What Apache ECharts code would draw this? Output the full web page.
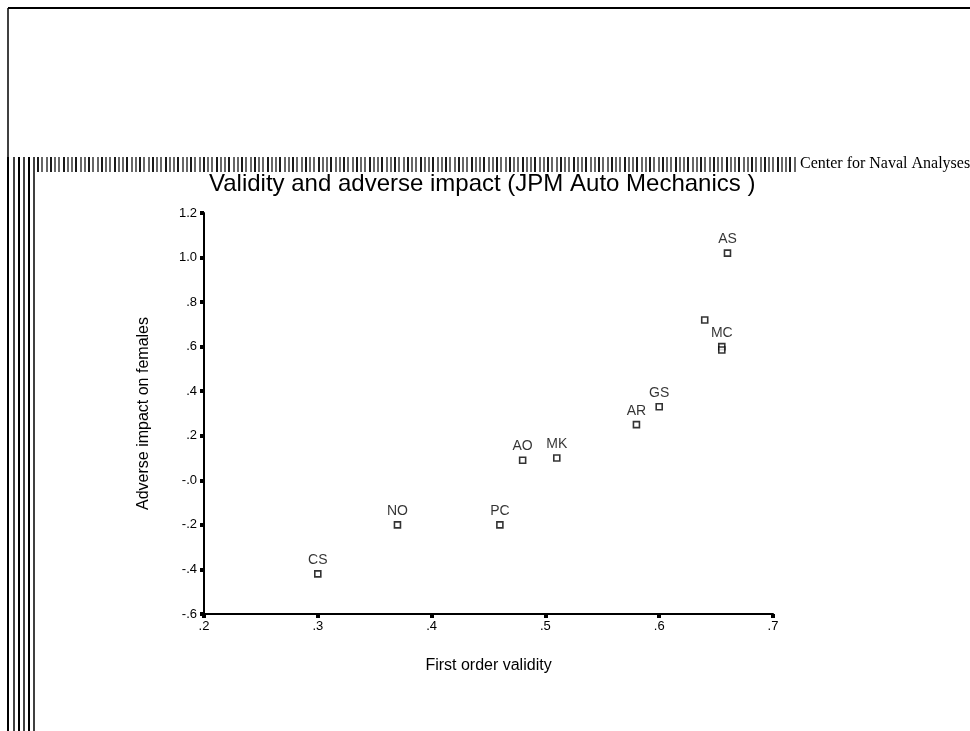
<!DOCTYPE html>
<html>
<head>
<meta charset="utf-8">
<script src="https://cdn.jsdelivr.net/npm/echarts@6/dist/echarts.min.js"></script>
<style>html,body{margin:0;padding:0;background:#fff;}#chart{width:970px;height:731px;}</style>
</head>
<body>
<div id="chart"></div>
<script>
// Data
const pointLabels = ['CS', 'NO', 'PC', 'AO', 'MK', 'AR', 'GS', '', 'MC', '', 'AS'];
const validity = [0.30, 0.37, 0.46, 0.48, 0.51, 0.58, 0.60, 0.64, 0.655, 0.655, 0.66];
const adverseImpact = [-0.42, -0.20, -0.20, 0.09, 0.10, 0.25, 0.33, 0.72, 0.60, 0.585, 1.02];
const xTickLabels = ['.2', '.3', '.4', '.5', '.6', '.7'];
const yTickLabels = ['-.6', '-.4', '-.2', '-.0', '.2', '.4', '.6', '.8', '1.0', '1.2'];

const X_MIN = 0.2, X_MAX = 0.7, X_INT = 0.1;
const Y_MIN = -0.6, Y_MAX = 1.2, Y_INT = 0.2;

const chart = echarts.init(document.getElementById('chart'), null, {renderer: 'canvas'});

// Decorative page stripes
const deco = [];
deco.push({type: 'line', shape: {x1: 8, y1: 8, x2: 970, y2: 8}, style: {stroke: '#000', lineWidth: 2}});
deco.push({type: 'line', shape: {x1: 8, y1: 8, x2: 8, y2: 158}, style: {stroke: '#000', lineWidth: 1.5}});
[8, 14, 19, 24, 29, 34].forEach(function (x, i) {
  deco.push({type: 'line', shape: {x1: x, y1: 157, x2: x, y2: 731}, style: {stroke: '#000', lineWidth: i % 2 ? 1.5 : 2}});
});
for (let x = 38, k = 0; x < 796; k++) {
  deco.push({type: 'line', shape: {x1: x, y1: 157, x2: x, y2: 172}, style: {stroke: '#000', lineWidth: (k % 3 === 0) ? 1.8 : 1.2}});
  x += (k % 4 === 1) ? 5 : 4;
}
deco.push({type: 'text', left: 800, top: 156, style: {text: 'Center for Naval Analyses', font: '16px "Liberation Serif", serif', fill: '#000'}});

function tickFmt(arr, min, step) {
  return function (v) {
    const i = Math.round((v - min) / step);
    return arr[i] !== undefined ? arr[i] : '';
  };
}

const data = validity.map(function (v, i) { return {value: [v, adverseImpact[i]], name: pointLabels[i]}; });

chart.setOption({
  animation: false,
  backgroundColor: '#fff',
  title: {
    text: 'Validity and adverse impact (JPM Auto Mechanics )',
    left: 204, top: 167,
    textStyle: {fontFamily: 'Liberation Sans, Arial, sans-serif', fontSize: 24, fontWeight: 'normal', color: '#000'}
  },
  graphic: deco,
  grid: {left: 204, right: 197, top: 213, bottom: 117, containLabel: false},
  xAxis: {
    type: 'value', min: X_MIN, max: X_MAX, interval: X_INT,
    name: 'First order validity', nameLocation: 'middle', nameGap: 44,
    nameTextStyle: {fontFamily: 'Liberation Sans, Arial, sans-serif', fontSize: 16, color: '#000'},
    axisLine: {show: true, onZero: false, lineStyle: {color: '#000', width: 2}},
    axisTick: {show: true, length: 4, lineStyle: {color: '#000', width: 4}},
    axisLabel: {formatter: tickFmt(xTickLabels, X_MIN, X_INT), margin: 6, color: '#000', fontFamily: 'Liberation Sans, Arial, sans-serif', fontSize: 13},
    splitLine: {show: false}
  },
  yAxis: {
    type: 'value', min: Y_MIN, max: Y_MAX, interval: Y_INT,
    name: 'Adverse impact on females', nameLocation: 'middle', nameGap: 52, nameRotate: 90,
    nameTextStyle: {fontFamily: 'Liberation Sans, Arial, sans-serif', fontSize: 16, color: '#000'},
    axisLine: {show: true, onZero: false, lineStyle: {color: '#000', width: 2}},
    axisTick: {show: true, length: 4, lineStyle: {color: '#000', width: 4}},
    axisLabel: {formatter: tickFmt(yTickLabels, Y_MIN, Y_INT), margin: 7, color: '#000', fontFamily: 'Liberation Sans, Arial, sans-serif', fontSize: 13},
    splitLine: {show: false}
  },
  series: [{
    type: 'scatter',
    data: data,
    symbol: 'rect',
    symbolSize: 6,
    itemStyle: {color: '#fff', borderColor: '#000', borderWidth: 1.6},
    label: {
      show: true, position: 'top', distance: 3,
      formatter: function (p) { return p.name; },
      color: '#000', fontFamily: 'Liberation Sans, Arial, sans-serif', fontSize: 14
    }
  }]
});
</script>
</body>
</html>
